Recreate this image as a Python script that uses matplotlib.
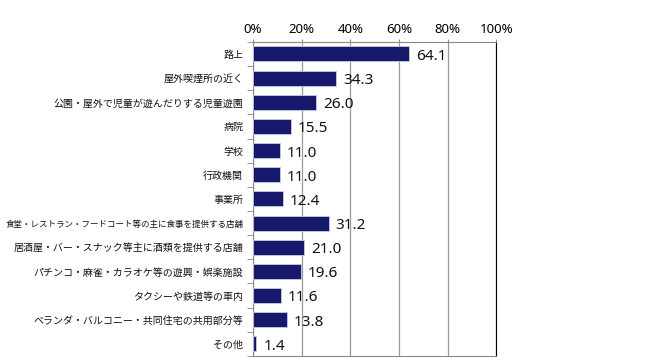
import numpy as np
import matplotlib.pyplot as plt

plt.rcParams['font.family'] = ['Noto Sans CJK JP', 'DejaVu Sans']

# categories (top to bottom) and percentages
categories = ['路上', '屋外喫煙所の近く', '公園・屋外で児童が遊んだりする児童遊園', '病院', '学校',
              '行政機関', '事業所', '食堂・レストラン・フードコート等の主に食事を提供する店舗',
              '居酒屋・バー・スナック等主に酒類を提供する店舗', 'パチンコ・麻雀・カラオケ等の遊興・娯楽施設',
              'タクシーや鉄道等の車内', 'ベランダ・バルコニー・共同住宅の共用部分等', 'その他']
values = [64.1, 34.3, 26.0, 15.5, 11.0, 11.0, 12.4, 31.2, 21.0, 19.6, 11.6, 13.8, 1.4]
xticks = [0, 20, 40, 60, 80, 100]

fig = plt.figure(figsize=(6.47, 3.61), dpi=100)
ax = fig.add_axes([0.391, 0.014, 0.376, 0.870])

y = np.arange(len(categories))
ax.barh(y, values, height=0.62, color='#16196b', edgecolor='#c8cce0', linewidth=0.6, zorder=3)
for yi, v in zip(y, values):
    ax.text(v + 2.8, yi + 0.1, '%.1f' % v, va='center', ha='left', fontsize=11,
            family=['Noto Sans', 'DejaVu Sans'], color='#111111', zorder=4)

ax.set_ylim(len(categories) - 0.5, -0.5)
ax.set_xlim(0, 100)
ax.set_xticks(xticks)
ax.set_xticklabels(['%d%%' % t for t in xticks], fontsize=9.5, family=['Noto Sans', 'DejaVu Sans'])
ax.xaxis.tick_top()
ax.tick_params(axis='x', length=2.5, pad=2, color='#888888')
ax.grid(axis='x', color='#999999', linewidth=0.9, zorder=0)

ax.set_yticks(y)
ax.set_yticklabels(categories, fontsize=7.2, color='#111111')
# full-width glyphs are wider than the original font: shrink the longest label to fit
for lab in ax.get_yticklabels():
    if len(lab.get_text()) > 23:
        lab.set_fontsize(6.1)
ax.tick_params(axis='y', length=0, pad=7)
ax.set_yticks(np.arange(len(categories) + 1) - 0.5, minor=True)
ax.tick_params(axis='y', which='minor', length=4, color='#888888')

for s in ['left', 'bottom', 'top']:
    ax.spines[s].set_color('#888888')
ax.spines['right'].set_color('#000000')

fig.savefig('out.png', dpi=100)
